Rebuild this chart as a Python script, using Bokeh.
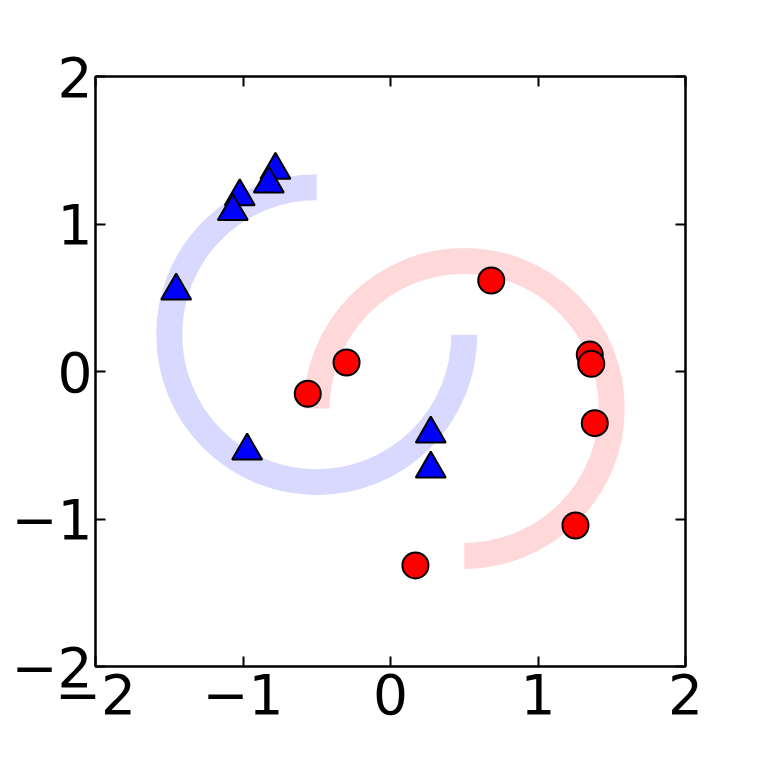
from bokeh.plotting import figure
from bokeh.models import LinearAxis, FixedTicker, Range1d
from bokeh.embed import file_html
from bokeh.resources import INLINE
import numpy as np

# data
blue_x = [-0.78, -0.825, -1.022, -1.069, -1.453, -0.972, 0.273, 0.273]
blue_y = [1.366, 1.273, 1.186, 1.085, 0.547, -0.538, -0.423, -0.66]
red_x = [0.683, -0.298, -0.561, 1.351, 1.361, 1.385, 1.254, 0.169]
red_y = [0.617, 0.061, -0.151, 0.115, 0.052, -0.350, -1.044, -1.315]

# arcs: centre x, centre y, radius, start deg, end deg
blue_arc = dict(cx=-0.5, cy=0.25, r=1.0, start=90, end=360)
red_arc = dict(cx=0.5, cy=-0.25, r=1.0, start=-90, end=180)

ticks = [-2, -1, 0, 1, 2]

p = figure(width=745, height=745, frame_width=590, frame_height=590,
           x_range=Range1d(-2, 2), y_range=Range1d(-2, 2),
           output_backend="svg", toolbar_location=None,
           min_border_left=95, min_border_right=60,
           min_border_top=76, min_border_bottom=79,
           x_axis_location=None, y_axis_location=None)
p.background_fill_color = "white"
p.border_fill_color = "white"
p.grid.visible = False
p.outline_line_color = "black"
p.outline_line_width = 2

def make_axis(show_labels):
    ax = LinearAxis(ticker=FixedTicker(ticks=ticks))
    ax.major_tick_in = 10
    ax.major_tick_out = 0
    ax.minor_tick_in = 0
    ax.minor_tick_out = 0
    ax.major_tick_line_width = 2
    ax.major_tick_line_color = "black"
    ax.axis_line_color = "black"
    ax.axis_line_width = 2
    ax.major_label_text_font = "DejaVu Sans"
    ax.major_label_text_font_size = "55px"
    ax.major_label_text_color = "black"
    if not show_labels:
        ax.major_label_text_alpha = 0
        ax.major_label_text_font_size = "0px"
        ax.major_label_standoff = 0
    return ax

xb = make_axis(True)
xb.major_label_standoff = 7
yl = make_axis(True)
yl.major_label_standoff = 3
xt = make_axis(False)
yr = make_axis(False)
p.add_layout(xb, "below")
p.add_layout(yl, "left")
p.add_layout(xt, "above")
p.add_layout(yr, "right")

p.arc(x=[blue_arc["cx"]], y=[blue_arc["cy"]], radius=blue_arc["r"],
      start_angle=np.deg2rad(blue_arc["start"]), end_angle=np.deg2rad(blue_arc["end"]),
      direction="anticlock", line_color="#d9d9ff", line_width=26, line_cap="butt")
p.arc(x=[red_arc["cx"]], y=[red_arc["cy"]], radius=red_arc["r"],
      start_angle=np.deg2rad(red_arc["start"]), end_angle=np.deg2rad(red_arc["end"]),
      direction="anticlock", line_color="#ffd9d9", line_width=26, line_cap="butt")

p.scatter(red_x, red_y, marker="circle", size=26, fill_color="#ff0000",
          line_color="black", line_width=2)
p.scatter(blue_x, blue_y, marker="triangle", size=30, fill_color="#0000ff",
          line_color="black", line_width=2)

open("out.html", "w").write(file_html(p, INLINE))
